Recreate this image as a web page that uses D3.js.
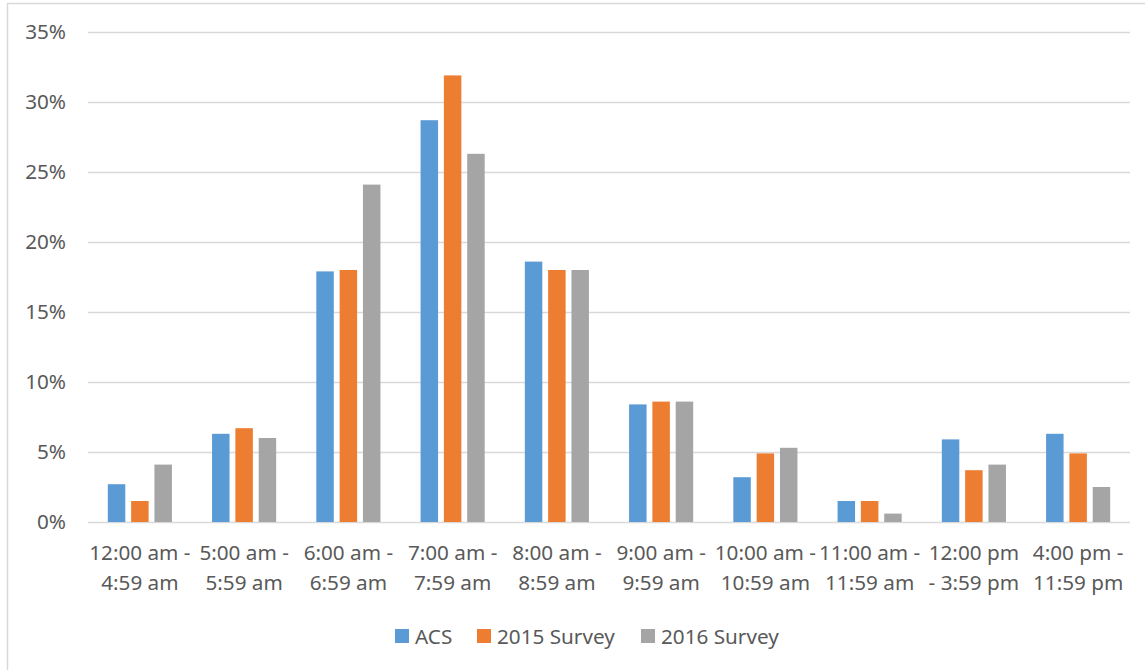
<!DOCTYPE html>
<html>
<head>
<meta charset="utf-8">
<script src="https://cdn.jsdelivr.net/npm/d3@7"></script>
<style>
  html, body { margin: 0; padding: 0; background: #fff; }
  svg { display: block; }
  text { font-family: "Noto Sans", "Open Sans", sans-serif; fill: #595959; }
</style>
</head>
<body>
<svg id="chart" width="1145" height="670"></svg>
<script>
// Departure time groups (each label split into its two display lines)
const categories = [
  ["12:00 am -", "4:59 am"],
  ["5:00 am -", "5:59 am"],
  ["6:00 am -", "6:59 am"],
  ["7:00 am -", "7:59 am"],
  ["8:00 am -", "8:59 am"],
  ["9:00 am -", "9:59 am"],
  ["10:00 am -", "10:59 am"],
  ["11:00 am -", "11:59 am"],
  ["12:00 pm", "- 3:59 pm"],
  ["4:00 pm -", "11:59 pm"]
];
const seriesNames = ["ACS", "2015 Survey", "2016 Survey"];
const acs      = [2.7, 6.3, 17.9, 28.7, 18.6, 8.4, 3.2, 1.5, 5.9, 6.3];
const survey15 = [1.5, 6.7, 18.0, 31.9, 18.0, 8.6, 4.9, 1.5, 3.7, 4.9];
const survey16 = [4.1, 6.0, 24.1, 26.3, 18.0, 8.6, 5.3, 0.6, 4.1, 2.5];
const yTicks = [0, 5, 10, 15, 20, 25, 30, 35];
const colors = ["#5B9BD5", "#ED7D31", "#A5A5A5"];

const values = [acs, survey15, survey16];
const fontSize = "20.7px";
const svg = d3.select("#chart");

// outer chart frame
svg.append("rect")
  .attr("x", 7.5).attr("y", 3.5)
  .attr("width", 1160).attr("height", 680)
  .attr("fill", "none").attr("stroke", "#D9D9D9").attr("stroke-width", 1.5);

const plot = { left: 88, right: 1130, top: 32, bottom: 522 };

const x = d3.scaleBand()
  .domain(d3.range(categories.length))
  .range([plot.left, plot.right])
  .paddingInner(0.385).paddingOuter(0.19);

const xInner = d3.scaleBand()
  .domain(d3.range(seriesNames.length))
  .range([0, x.bandwidth()])
  .paddingInner(0.25);

const y = d3.scaleLinear().domain([0, 35]).range([plot.bottom, plot.top]);

// horizontal gridlines + y labels
const yAxis = d3.axisLeft(y)
  .tickValues(yTicks)
  .tickSize(-(plot.right - plot.left))
  .tickFormat(d => d + "%");

const gy = svg.append("g")
  .attr("transform", `translate(${plot.left},0)`)
  .call(yAxis);
gy.select(".domain").remove();
gy.selectAll(".tick line").attr("stroke", "#D9D9D9").attr("stroke-width", 1.5);
gy.selectAll(".tick text")
  .attr("x", -22)
  .style("font-size", fontSize)
  .style("fill", "#595959")
  .style("font-family", "\"Noto Sans\", sans-serif");

// bars
const groups = svg.append("g").selectAll("g")
  .data(categories.map((c, i) => i))
  .join("g")
  .attr("transform", i => `translate(${x(i)},0)`);

groups.selectAll("rect")
  .data(i => values.map((s, k) => ({ k, v: s[i] })))
  .join("rect")
  .attr("x", d => xInner(d.k))
  .attr("width", xInner.bandwidth())
  .attr("y", d => y(d.v))
  .attr("height", d => y(0) - y(d.v))
  .attr("fill", d => colors[d.k]);

// category labels
const labels = svg.append("g").selectAll("text")
  .data(categories)
  .join("text")
  .attr("text-anchor", "middle")
  .attr("x", (d, i) => x(i) + x.bandwidth() / 2)
  .attr("y", 560)
  .style("font-size", fontSize);
labels.selectAll("tspan")
  .data(d => d)
  .join("tspan")
  .attr("x", function () { return this.parentNode.getAttribute("x"); })
  .attr("dy", (d, j) => j === 0 ? 0 : 30)
  .text(d => d);

// legend
const legendX = [395, 477, 641];
const legend = svg.append("g").selectAll("g")
  .data(seriesNames)
  .join("g")
  .attr("transform", (d, i) => `translate(${legendX[i]},629)`);
legend.append("rect")
  .attr("width", 14).attr("height", 14)
  .attr("fill", (d, i) => colors[i]);
legend.append("text")
  .attr("x", 20).attr("y", 15)
  .style("font-size", fontSize)
  .text(d => d);
</script>
</body>
</html>
